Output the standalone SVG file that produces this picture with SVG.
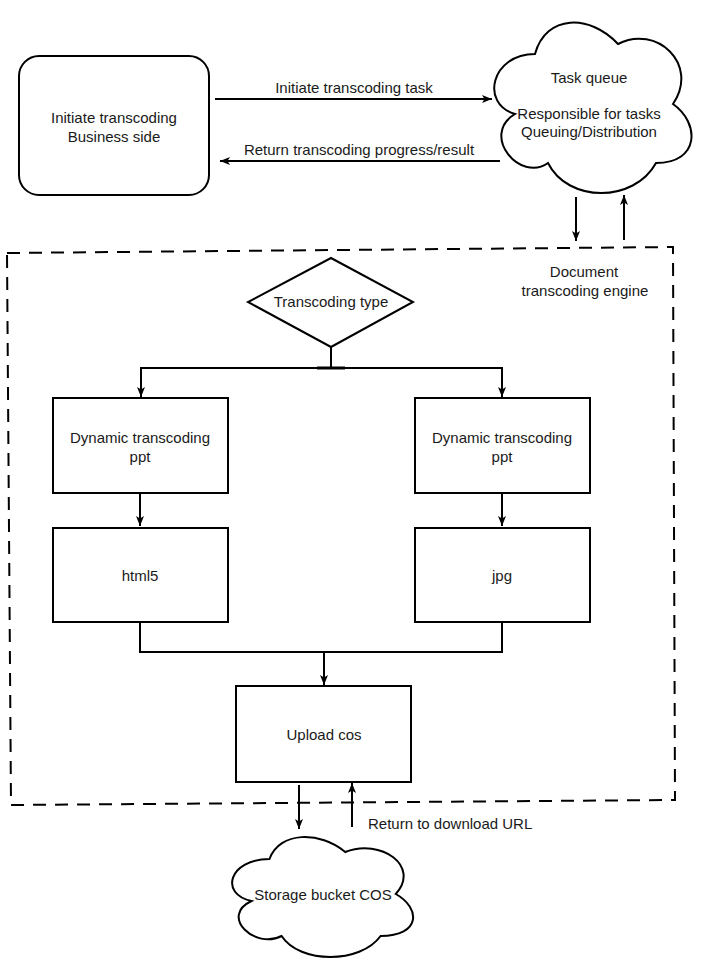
<svg xmlns="http://www.w3.org/2000/svg" width="703" height="970" viewBox="0 0 703 970">
<defs>
<marker id="ah" viewBox="0 0 10 8" refX="10" refY="4" markerWidth="10" markerHeight="8" markerUnits="userSpaceOnUse" orient="auto">
<path d="M0,0 L10,4 L0,8 L2.5,4 Z" fill="#000"/>
</marker>
<style>
.s{fill:#fff;stroke:#000;stroke-width:2}
.e{fill:none;stroke:#000;stroke-width:2}
.t{font-family:"Liberation Sans",Arial,sans-serif;font-size:15px;fill:#1a1a1a;text-anchor:middle}
.ts{font-family:"Liberation Sans",Arial,sans-serif;font-size:15px;fill:#1a1a1a;text-anchor:start}
</style>
</defs>
<rect width="703" height="970" fill="#fff"/>
<g id="engine">
<path d="M7,253 L673,247 L675,800 L11,805 Z" fill="none" stroke="#000" stroke-width="2" stroke-dasharray="13 9"/>
<text class="t" x="584" y="277">Document</text>
<text class="t" x="585" y="296">transcoding engine</text>
</g>
<g id="business">
<rect class="s" x="19" y="56" width="190" height="139" rx="20"/>
<text class="t" x="114" y="123">Initiate transcoding</text>
<text class="t" x="114" y="142">Business side</text>
</g>
<g id="taskqueue">
<path class="s" d="M535,54 C491,54 480,104 515,114 C480,135 520,183 548,163 C568,203 634,203 656,163 C700,163 700,123 673,104 C700,64 656,24 618,44 C590,14 546,14 535,54 Z"/>
<text class="t" x="589" y="83">Task queue</text>
<text class="t" x="589" y="119">Responsible for tasks</text>
<text class="t" x="589" y="137">Queuing/Distribution</text>
</g>
<g id="type">
<polygon class="s" points="331,258 413,302 331,347 248,302"/>
<text class="t" x="331" y="307">Transcoding type</text>
</g>
<g id="dyn1">
<rect class="s" x="53" y="398" width="175" height="95"/>
<text class="t" x="140" y="443">Dynamic transcoding</text>
<text class="t" x="140" y="462">ppt</text>
</g>
<g id="dyn2">
<rect class="s" x="415" y="398" width="175" height="95"/>
<text class="t" x="502" y="443">Dynamic transcoding</text>
<text class="t" x="502" y="462">ppt</text>
</g>
<g id="html5">
<rect class="s" x="53" y="528" width="175" height="94"/>
<text class="t" x="140" y="581">html5</text>
</g>
<g id="jpg">
<rect class="s" x="415" y="528" width="175" height="94"/>
<text class="t" x="502" y="581">jpg</text>
</g>
<g id="upload">
<rect class="s" x="236" y="686" width="175" height="96"/>
<text class="t" x="324" y="740">Upload cos</text>
</g>
<g id="storage">
<path class="s" d="M269.5,859 C229,859 219,894 251.5,901 C219,916.4 255.4,950 281.6,936 C299.8,964 360.4,964 380.6,936 C421,936 421,908 395.75,894 C421,866 380.6,838 345.25,852 C320,831 279.6,831 269.5,859 Z"/>
<text class="t" x="323" y="900">Storage bucket COS</text>
</g>
<g id="connectors">
<path class="e" d="M215,99 H492" marker-end="url(#ah)"/>
<text class="t" x="354" y="93">Initiate transcoding task</text>
<path class="e" d="M500,161 H220" marker-end="url(#ah)"/>
<text class="t" x="359" y="155">Return transcoding progress/result</text>
<path class="e" d="M576,197 V241" marker-end="url(#ah)"/>
<path class="e" d="M624,240 V195" marker-end="url(#ah)"/>
<path class="e" d="M331,347 V368 H141 V397" marker-end="url(#ah)"/>
<path class="e" d="M331,347 V368 H502 V397" marker-end="url(#ah)"/>
<path d="M317,368 H345" stroke="#000" stroke-width="3"/>
<path class="e" d="M140,493 V526" marker-end="url(#ah)"/>
<path class="e" d="M502,493 V526" marker-end="url(#ah)"/>
<path class="e" d="M140,622 V652 H502 V622"/>
<path class="e" d="M324,652 V685" marker-end="url(#ah)"/>
<path class="e" d="M299,785 V829" marker-end="url(#ah)"/>
<path class="e" d="M352,827 V783" marker-end="url(#ah)"/>
<text class="ts" x="368" y="829">Return to download URL</text>
</g>
</svg>
